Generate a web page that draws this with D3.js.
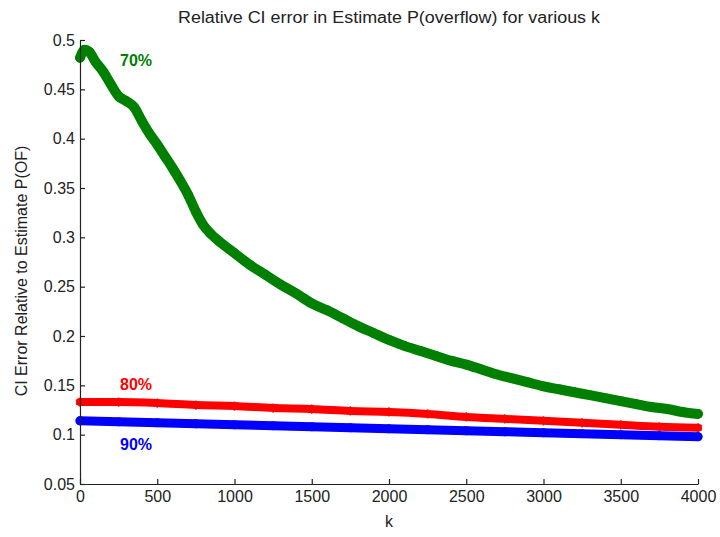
<!DOCTYPE html>
<html>
<head>
<meta charset="utf-8">
<script src="https://cdn.jsdelivr.net/npm/d3@7"></script>
<style>
  html, body { margin: 0; padding: 0; background: #fff; }
  svg { display: block; font-family: "Liberation Sans", Arial, Helvetica, sans-serif; }
</style>
</head>
<body>
<svg id="chart" width="720" height="537"></svg>
<script>
// ---- data ----
const title = "Relative CI error in Estimate P(overflow) for various k";
const xLabel = "k";
const yLabel = "CI Error Relative to Estimate P(OF)";

const xTicks = [0, 500, 1000, 1500, 2000, 2500, 3000, 3500, 4000];
const yTicks = [0.05, 0.1, 0.15, 0.2, 0.25, 0.3, 0.35, 0.4, 0.45, 0.5];
const yTickLabels = ["0.05", "0.1", "0.15", "0.2", "0.25", "0.3", "0.35", "0.4", "0.45", "0.5"];

const k70 = [0, 30, 60, 100, 150, 200, 250, 300, 350, 400, 450, 500, 550, 600, 650, 700, 750, 800, 850, 900,
             1000, 1100, 1200, 1300, 1400, 1500, 1600, 1700, 1800, 1900, 2000, 2100, 2200, 2300, 2400, 2500,
             2600, 2700, 2800, 2900, 3000, 3100, 3200, 3300, 3400, 3500, 3600, 3700, 3800, 3900, 4000];
const v70 = [0.482, 0.490, 0.488, 0.478, 0.468, 0.455, 0.443, 0.438, 0.432, 0.418, 0.405, 0.394, 0.382, 0.370, 0.357, 0.343, 0.326, 0.312, 0.303, 0.296,
             0.284, 0.272, 0.262, 0.252, 0.243, 0.233, 0.226, 0.218, 0.210, 0.203, 0.196, 0.190, 0.185, 0.180, 0.175, 0.171,
             0.166, 0.161, 0.157, 0.153, 0.149, 0.146, 0.143, 0.140, 0.137, 0.134, 0.131, 0.128, 0.126, 0.123, 0.121];

const k80 = [0, 250, 500, 750, 1000, 1250, 1500, 1750, 2000, 2250, 2500, 2750, 3000, 3250, 3500, 3750, 4000];
const v80 = [0.133, 0.133, 0.132, 0.130, 0.129, 0.127, 0.126, 0.124, 0.123, 0.121, 0.118, 0.116, 0.114, 0.112, 0.110, 0.108, 0.107];

const k90 = [0, 250, 500, 750, 1000, 1250, 1500, 1750, 2000, 2250, 2500, 2750, 3000, 3250, 3500, 3750, 4000];
const v90 = [0.114, 0.113, 0.112, 0.111, 0.110, 0.109, 0.108, 0.107, 0.106, 0.105, 0.104, 0.103, 0.102, 0.101, 0.100, 0.099, 0.098];

const seriesNames = ["70%", "80%", "90%"];

// ---- layout / style ----
const svg = d3.select("#chart");
const x = d3.scaleLinear().domain([0, 4000]).range([80, 698]);
const y = d3.scaleLinear().domain([0.05, 0.5]).range([484, 40]);

const colors = { "70%": "#008000", "80%": "#ff0000", "90%": "#0000ff" };

const series = [
  { name: "70%", k: k70, v: v70, width: 10, marker: "circle" },
  { name: "80%", k: k80, v: v80, width: 8, marker: "star" },
  { name: "90%", k: k90, v: v90, width: 9, marker: "dot" }
];

const line = d3.line().x(d => x(d[0])).y(d => y(d[1])).curveMonotoneX;
const lineGen = d3.line().x(d => x(d[0])).y(d => y(d[1])).curve(d3.curveMonotoneX);

series.forEach(s => {
  const pts = s.k.map((k, i) => [k, s.v[i]]);
  const c = colors[s.name];
  svg.append("path")
    .attr("d", lineGen(pts))
    .attr("fill", "none")
    .attr("stroke", c)
    .attr("stroke-width", s.width)
    .attr("stroke-linecap", "round")
    .attr("stroke-linejoin", "round");
  const g = svg.append("g");
  if (s.marker === "circle") {
    g.selectAll("circle").data(pts).join("circle")
      .attr("cx", d => x(d[0])).attr("cy", d => y(d[1])).attr("r", 4)
      .attr("fill", "none").attr("stroke", c).attr("stroke-width", 1.5);
  } else if (s.marker === "star") {
    const sym = d3.symbol().type(d3.symbolAsterisk).size(60);
    g.selectAll("path").data(pts).join("path")
      .attr("d", sym).attr("transform", d => `translate(${x(d[0])},${y(d[1])})`)
      .attr("fill", "none").attr("stroke", c).attr("stroke-width", 1.5);
  } else {
    g.selectAll("circle").data(pts).join("circle")
      .attr("cx", d => x(d[0])).attr("cy", d => y(d[1])).attr("r", 4.5)
      .attr("fill", c);
  }
});

// ---- axes ----
const xAxis = d3.axisBottom(x).tickValues(xTicks).tickFormat(d3.format("d"))
  .tickSizeInner(-5).tickSizeOuter(0).tickPadding(7);
const yAxis = d3.axisLeft(y).tickValues(yTicks).tickFormat((d, i) => yTickLabels[i])
  .tickSizeInner(-5).tickSizeOuter(0).tickPadding(5);

const gx = svg.append("g").attr("transform", `translate(0,${y(0.05)})`).call(xAxis);
const gy = svg.append("g").attr("transform", `translate(${x(0)},0)`).call(yAxis);
[gx, gy].forEach(g => {
  g.select(".domain").attr("stroke", "#222").attr("stroke-width", 1.2);
  g.selectAll(".tick line").attr("stroke", "#222").attr("stroke-width", 1.2);
  g.selectAll(".tick text").attr("fill", "#222").style("font-size", "16px")
    .style("font-family", "'Liberation Sans', Arial, sans-serif");
});

// ---- titles ----
svg.append("text").attr("x", 389).attr("y", 23).attr("text-anchor", "middle")
  .attr("fill", "#222").style("font-size", "16px")
  .attr("textLength", 422).attr("lengthAdjust", "spacingAndGlyphs")
  .text(title);
svg.append("text").attr("x", 389).attr("y", 527).attr("text-anchor", "middle")
  .attr("fill", "#222").style("font-size", "16px").text(xLabel);
svg.append("text").attr("transform", "translate(27,271) rotate(-90)").attr("text-anchor", "middle")
  .attr("fill", "#222").style("font-size", "16px").text(yLabel);

// ---- series labels ----
const labelPos = { "70%": [136, 66], "80%": [136, 390], "90%": [136, 450] };
seriesNames.forEach(n => {
  svg.append("text").attr("x", labelPos[n][0]).attr("y", labelPos[n][1])
    .attr("text-anchor", "middle").attr("fill", colors[n])
    .style("font-size", "16px").style("font-weight", "bold").text(n);
});
</script>
</body>
</html>
